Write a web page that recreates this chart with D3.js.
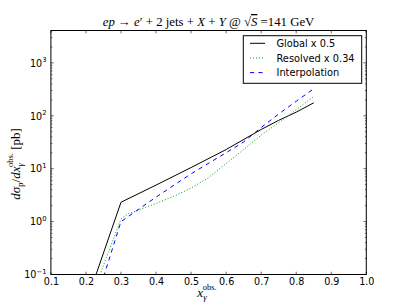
<!DOCTYPE html>
<html><head><meta charset="utf-8">
<script src="https://cdn.jsdelivr.net/npm/d3@7"></script>
<style>
body{margin:0;background:#fff;}
svg{display:block;}
text{font-family:"DejaVu Sans",sans-serif;}
.math{font-family:"Liberation Serif","DejaVu Serif",serif;}
</style></head>
<body>
<svg id="chart" width="407" height="305"></svg>
<script>
// ---- data ----
const globalX   = [0.2, 0.3, 0.4, 0.5, 0.6, 0.7, 0.75, 0.8, 0.85];
const globalY   = [0.028, 2.32, 4.9, 10.5, 23, 55, 82, 117, 176];
const resolvedX = [0.2, 0.3, 0.32, 0.4, 0.45, 0.5, 0.55, 0.6, 0.65, 0.7, 0.75, 0.8, 0.85];
const resolvedY = [0.02, 1.12, 1.4, 2.2, 3.0, 4.3, 6.8, 12.5, 23, 43, 74, 130, 232];
const interpX   = [0.2, 0.25, 0.3, 0.4, 0.5, 0.6, 0.65, 0.7, 0.75, 0.8, 0.85];
const interpY   = [0.008, 0.089, 1.0, 2.9, 8.0, 20, 32, 60, 108, 188, 324];
const xTicks    = [0.1, 0.2, 0.3, 0.4, 0.5, 0.6, 0.7, 0.8, 0.9, 1.0];
const yTickExps = [-1, 0, 1, 2, 3];
const legendLabels = ["Global x 0.5", "Resolved x 0.34", "Interpolation"];

const L = 50.9, R = 366.3, T = 30.5, B = 274.5;
const svg = d3.select("#chart");
const x = d3.scaleLinear().domain([0.1, 1.0]).range([L, R]);
const y = d3.scaleLog().domain([0.1, 4090]).range([B, T]);

svg.append("defs").append("clipPath").attr("id", "clip")
  .append("rect").attr("x", L).attr("y", T).attr("width", R - L).attr("height", B - T);

// ---- series ----
const series = [
  {xs: globalX, ys: globalY, color: "#000000", dash: null, w: 1},
  {xs: resolvedX, ys: resolvedY, color: "#00a000", dash: "1,2", w: 1},
  {xs: interpX, ys: interpY, color: "#0000ff", dash: "4.2,4.2", w: 1}
];
const line = d3.line().x(d => x(d[0])).y(d => y(d[1]));
const g = svg.append("g").attr("clip-path", "url(#clip)");
series.forEach(s => {
  g.append("path").datum(s.xs.map((v, i) => [v, s.ys[i]]))
    .attr("d", line).attr("fill", "none").attr("stroke", s.color)
    .attr("stroke-width", s.w).attr("stroke-dasharray", s.dash);
});

// ---- axes ----
const tickCol = "#000";
const major = 2.8, minor = 1.4;
const axisBottom = d3.axisBottom(x).tickValues(xTicks).tickSize(0).tickFormat(d3.format(".1f"));
const ax = svg.append("g").attr("transform", `translate(0,${B})`).call(axisBottom);
ax.select(".domain").remove();
ax.selectAll("text").attr("dy", 0).attr("y", 10.3).attr("font-size", 9.6)
  .attr("font-family", "DejaVu Sans").attr("fill", "#000");

xTicks.forEach(v => {
  svg.append("line").attr("x1", x(v)).attr("x2", x(v)).attr("y1", B).attr("y2", B - major).attr("stroke", tickCol).attr("stroke-width", 0.6);
  svg.append("line").attr("x1", x(v)).attr("x2", x(v)).attr("y1", T).attr("y2", T + major).attr("stroke", tickCol).attr("stroke-width", 0.6);
});
const yMaj = yTickExps.map(e => Math.pow(10, e));
const yMin = [];
for (let e = -1; e <= 3; e++) for (let k = 2; k <= 9; k++) { const v = k * Math.pow(10, e); if (v <= 4090) yMin.push(v); }
yMaj.forEach(v => {
  svg.append("line").attr("x1", L).attr("x2", L + major).attr("y1", y(v)).attr("y2", y(v)).attr("stroke", tickCol).attr("stroke-width", 0.6);
  svg.append("line").attr("x1", R).attr("x2", R - major).attr("y1", y(v)).attr("y2", y(v)).attr("stroke", tickCol).attr("stroke-width", 0.6);
});
yMin.forEach(v => {
  svg.append("line").attr("x1", L).attr("x2", L + minor).attr("y1", y(v)).attr("y2", y(v)).attr("stroke", tickCol).attr("stroke-width", 0.6);
  svg.append("line").attr("x1", R).attr("x2", R - minor).attr("y1", y(v)).attr("y2", y(v)).attr("stroke", tickCol).attr("stroke-width", 0.6);
});
yTickExps.forEach(e => {
  const t = svg.append("text").attr("x", 46.5).attr("y", y(Math.pow(10, e)) + 3.8)
    .attr("text-anchor", "end").attr("font-size", 9.6).attr("fill", "#000");
  t.append("tspan").text("10");
  t.append("tspan").attr("dy", -4.5).attr("font-size", 6.8).text(e < 0 ? "\u2212" + Math.abs(e) : String(e));
});

svg.append("rect").attr("x", L).attr("y", T).attr("width", R - L).attr("height", B - T)
  .attr("fill", "none").attr("stroke", "#000").attr("stroke-width", 1);

// ---- title ----
const title = svg.append("text").attr("class", "math").attr("x", (L + R) / 2).attr("y", 26)
  .attr("text-anchor", "middle").attr("font-size", 12.8).attr("fill", "#000");
title.append("tspan").attr("font-style", "italic").text("ep");
title.append("tspan").text(" \u2192 ");
title.append("tspan").attr("font-style", "italic").text("e");
title.append("tspan").text("\u2032  + 2 jets + ");
title.append("tspan").attr("font-style", "italic").text("X");
title.append("tspan").text(" + ");
title.append("tspan").attr("font-style", "italic").text("Y");
title.append("tspan").text(" @ \u221A");
title.append("tspan").attr("font-style", "italic").attr("text-decoration", "overline").text("S");
title.append("tspan").text(" =141 GeV");

// ---- x label ----
const xl = svg.append("text").attr("class", "math").attr("x", 207).attr("y", 297)
  .attr("text-anchor", "middle").attr("font-size", 13).attr("fill", "#000");
xl.append("tspan").attr("font-style", "italic").text("x");
xl.append("tspan").attr("font-style", "italic").attr("font-size", 9).attr("dy", 3).text("\u03B3");
xl.append("tspan").attr("font-size", 8.5).attr("dx", -4).attr("dy", -10).text("obs.");

// ---- y label ----
const yl = svg.append("text").attr("class", "math")
  .attr("transform", "translate(20,164) rotate(-90)")
  .attr("text-anchor", "middle").attr("font-size", 13).attr("fill", "#000");
yl.append("tspan").attr("font-style", "italic").text("d\u03C3");
yl.append("tspan").attr("font-size", 9).attr("dy", 3).text("p");
yl.append("tspan").attr("dy", -3).text("/");
yl.append("tspan").attr("font-style", "italic").text("dx");
yl.append("tspan").attr("font-style", "italic").attr("font-size", 9).attr("dy", 3).text("\u03B3");
yl.append("tspan").attr("font-size", 8.5).attr("dx", -4).attr("dy", -10).text("obs.");
yl.append("tspan").attr("dy", 7).text("  [pb]");

// ---- legend ----
const lg = svg.append("g");
lg.append("rect").attr("x", 243.3).attr("y", 35.7).attr("width", 118.4).attr("height", 47.6)
  .attr("fill", "#fff").attr("stroke", "#000").attr("stroke-width", 1);
const rowY = [43.3, 58.0, 72.6];
series.forEach((s, i) => {
  lg.append("line").attr("x1", 250).attr("x2", 265).attr("y1", rowY[i]).attr("y2", rowY[i])
    .attr("stroke", s.color).attr("stroke-width", s.w).attr("stroke-dasharray", s.dash);
  lg.append("text").attr("x", 276.5).attr("y", rowY[i] + 3.6).attr("font-size", 9.8)
    .attr("fill", "#000").text(legendLabels[i]);
});
</script>
</body></html>
